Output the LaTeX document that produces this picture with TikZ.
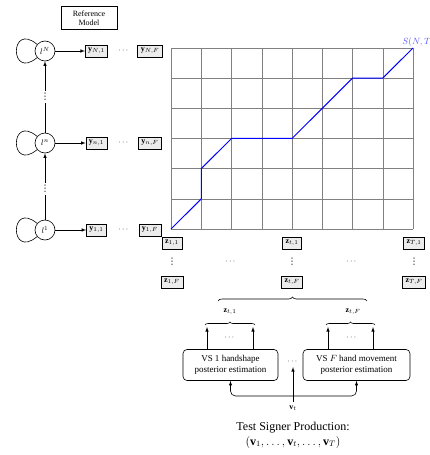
\documentclass[tikz,border=0pt]{standalone}
\usepackage{fontspec}
\setmainfont{Liberation Serif}
\newfontfamily\symfont{DejaVu Sans}
\usepackage{amsmath}
\usetikzlibrary{decorations.pathreplacing,shadows,arrows}

\begin{document}
\begin{tikzpicture}[x=1pt,y=-1pt,>=latex,semithick,
    state/.style={draw,circle,minimum size=20pt,inner sep=0pt,font=\footnotesize},
    featbox/.style={draw,fill=gray!15,inner xsep=3pt,inner ysep=1.5pt,minimum height=12pt,font=\footnotesize,
        drop shadow={shadow xshift=.7pt,shadow yshift=-.7pt,opacity=.8,fill=black!70}},
    vsbox/.style={draw,rounded corners=4pt,align=center,font=\small,minimum height=31pt},
    gap/.style={inner sep=3pt,font=\footnotesize},
    vgap/.style={inner sep=2pt,font=\symfont\small},
    gridline/.style={gray,thin},
    warp/.style={blue,line width=1pt},
    brc/.style={decorate,decoration={brace,amplitude=4pt}},
    smallbrc/.style={decorate,decoration={brace,amplitude=3pt}}]
    \useasboundingbox (0,0) rectangle (430,455);

    % reference model (left)
    \node[draw,align=center,font=\footnotesize,minimum width=56pt,minimum height=23pt] (refmodel) at (89,18) {Reference\\Model};
    \node[state] (lN) at (45,51) {$l^N$};
    \node[state] (ln) at (45,143) {$l^n$};
    \node[state] (l1) at (45,230) {$l^1$};
    \node[vgap] (vdN) at (45,97) {⋮};
    \node[vgap] (vd1) at (45,189) {⋮};
    \draw (lN) edge[loop,out=140,in=220,looseness=7] (lN);
    \draw (ln) edge[loop,out=140,in=220,looseness=7] (ln);
    \draw (l1) edge[loop,out=140,in=220,looseness=7] (l1);
    \draw (l1) -- (vd1);
    \draw[->] (vd1) -- (ln);
    \draw (ln) -- (vdN);
    \draw[->] (vdN) -- (lN);

    \node[featbox] (yN1) at (96.5,51) {$\mathbf{y}_{N,1}$};
    \node[gap] (yNd) at (124,51) {$\cdots$};
    \node[featbox] (yNF) at (150,51) {$\mathbf{y}_{N,F}$};
    \node[featbox] (yn1) at (96.5,143) {$\mathbf{y}_{n,1}$};
    \node[gap] (ynd) at (124,143) {$\cdots$};
    \node[featbox] (ynF) at (150,143) {$\mathbf{y}_{n,F}$};
    \node[featbox] (y11) at (96.5,230) {$\mathbf{y}_{1,1}$};
    \node[gap] (y1d) at (124,230) {$\cdots$};
    \node[featbox] (y1F) at (150,230) {$\mathbf{y}_{1,F}$};
    \draw[->] (lN) -- (yN1);
    \draw[->] (ln) -- (yn1);
    \draw[->] (l1) -- (y11);

    % alignment grid
    \begin{scope}[shift={(171,229)},x=30.25pt,y=30.17pt]
        \foreach \i in {0,...,8} \draw[gridline] (\i,0) -- (\i,6);
        \foreach \j in {0,...,6} \draw[gridline] (0,\j) -- (8,\j);
        \draw[warp] (0,0) -- (1,1) -- (1,2) -- (2,3) -- (4,3) -- (6,5) -- (7,5) -- (8,6);
        \node[anchor=south west,inner sep=1pt,xshift=-12pt,font=\small,text=blue!65] (snt) at (8,6) {$S(N,T)$};
    \end{scope}

    % test features
    \node[featbox] (z11) at (172,243) {$\mathbf{z}_{1,1}$};
    \node[vgap] (z1v) at (172,262) {⋮};
    \node[featbox] (z1F) at (172,282) {$\mathbf{z}_{1,F}$};
    \node[featbox] (zt1) at (292,243) {$\mathbf{z}_{t,1}$};
    \node[vgap] (ztv) at (292,262) {⋮};
    \node[featbox] (ztF) at (292,282) {$\mathbf{z}_{t,F}$};
    \node[featbox] (zT1) at (414,243) {$\mathbf{z}_{T,1}$};
    \node[vgap] (zTv) at (414,262) {⋮};
    \node[featbox] (zTF) at (414,282) {$\mathbf{z}_{T,F}$};
    \node[gap] (zd1) at (231,262) {$\cdots$};
    \node[gap] (zd2) at (352,262) {$\cdots$};

    \coordinate (bigL) at (218,301);
    \coordinate (bigR) at (367,301);
    \draw[brc] (bigL) -- (bigR);
    \node[font=\footnotesize] (lab1) at (230,312) {$\mathbf{z}_{t,1}$};
    \node[font=\footnotesize] (labF) at (353,312) {$\mathbf{z}_{t,F}$};

    % visual sub-unit estimators
    \node[vsbox,minimum width=95pt] (vs1) at (230.5,365) {VS 1 handshape\\posterior estimation};
    \node[vsbox,minimum width=107pt] (vsF) at (356.5,365) {VS $F$ hand movement\\posterior estimation};
    \node[gap] (vsd) at (293,362) {$\cdots$};

    \coordinate (b1l) at (207,327);
    \coordinate (b1r) at (253,327);
    \coordinate (bFl) at (328,327);
    \coordinate (bFr) at (373,327);
    \draw[->] (vs1.north -| b1l) -- (b1l);
    \draw[->] (vs1.north -| b1r) -- (b1r);
    \draw[->] (vsF.north -| bFl) -- (bFl);
    \draw[->] (vsF.north -| bFr) -- (bFr);
    \draw[smallbrc] ([xshift=-2pt,yshift=2pt]b1l) -- ([xshift=2pt,yshift=2pt]b1r);
    \draw[smallbrc] ([xshift=-2pt,yshift=2pt]bFl) -- ([xshift=2pt,yshift=2pt]bFr);
    \node[gap] (ad1) at (230,338) {$\cdots$};
    \node[gap] (adF) at (352,338) {$\cdots$};

    \node[font=\footnotesize] (vt) at (293,408) {$\mathbf{v}_t$};
    \coordinate (split) at (293,396);
    \draw[->] (vt) -- (vsd);
    \draw[<->,rounded corners=5pt] (vs1.south) |- (split) -| (vsF.south);

    \node[font=\large,align=center] (tsp) at (293,435) {Test Signer Production:\\[1pt]$(\mathbf{v}_1,\ldots,\mathbf{v}_t,\ldots,\mathbf{v}_T)$};
\end{tikzpicture}
\end{document}
